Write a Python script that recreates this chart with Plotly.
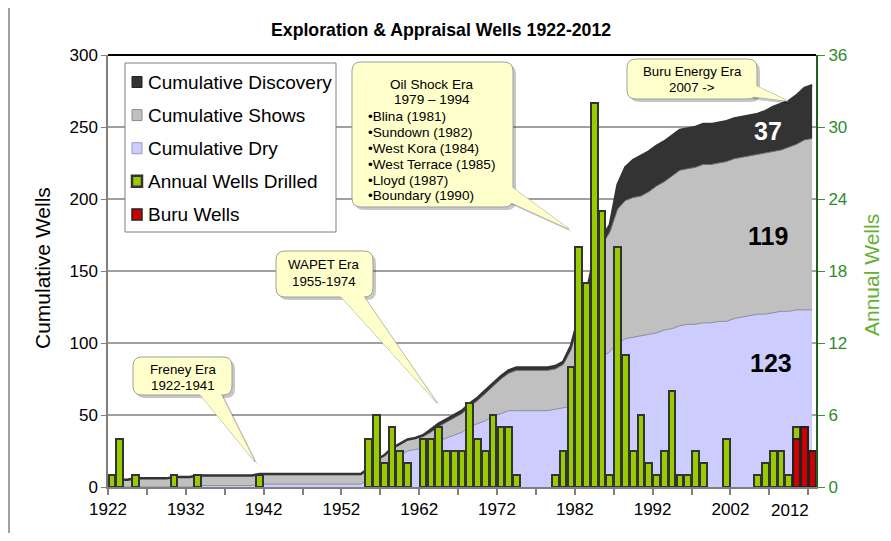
import plotly.graph_objects as go

# ---- data ----
years = list(range(1922, 2013))

# annual wells drilled, 1922..2012
wells = [1, 4, 0, 1, 0, 0, 0, 0, 1, 0,
         0, 1, 0, 0, 0, 0, 0, 0, 0, 1,
         0, 0, 0, 0, 0, 0, 0, 0, 0, 0,
         0, 0, 0, 4, 6, 2, 5, 3, 2, 0,
         4, 4, 5, 3, 3, 3, 7, 4, 3, 6,
         5, 5, 1, 0, 0, 0, 0, 1, 3, 10,
         20, 17, 32, 23, 1, 20, 11, 3, 6, 2,
         1, 3, 8, 1, 1, 3, 2, 0, 0, 4,
         0, 0, 0, 1, 2, 3, 3, 1, 5, 5,
         3]

buru_years = [2010, 2011, 2012]
buru_wells = [4, 5, 3]

# cumulative counts (stacked: dry, shows, discovery)
cum_dry = [0, 0, 0, 0, 0, 0, 0, 0, 0, 0,
           0, 1, 1, 1, 1, 1, 1, 1, 1, 2,
           2, 2, 2, 2, 2, 2, 2, 2, 2, 2,
           2, 2, 2, 5, 11, 14, 19, 22, 25, 26,
           27, 29, 32, 34, 36, 38, 42, 44, 46, 49,
           51, 53, 53, 53, 53, 53, 53, 54, 55, 56,
           64, 72, 82, 90, 94, 100, 103, 104, 105, 106,
           107, 109, 110, 112, 113, 113, 114, 114, 115, 115,
           117, 118, 119, 120, 120, 121, 122, 122, 123, 123,
           123]

cum_shows = [1, 5, 5, 6, 6, 6, 6, 6, 7, 7,
             7, 7, 7, 7, 7, 7, 7, 7, 7, 7,
             7, 7, 7, 7, 7, 7, 7, 7, 7, 7,
             7, 7, 7, 8, 8, 8, 8, 8, 8, 8,
             8, 9, 10, 11, 12, 13, 14, 16, 19, 21,
             24, 26, 28, 28, 28, 28, 28, 28, 30, 39,
             50, 58, 73, 78, 83, 93, 96, 97, 97, 99,
             102, 103, 106, 108, 108, 109, 110, 110, 110, 111,
             111, 111, 111, 111, 112, 112, 112, 114, 115, 118,
             119]

cum_disc = [0, 0, 0, 0, 0, 0, 0, 0, 0, 0,
            0, 0, 0, 0, 0, 0, 0, 0, 0, 0,
            0, 0, 0, 0, 0, 0, 0, 0, 0, 0,
            0, 0, 0, 0, 0, 0, 0, 0, 0, 0,
            1, 2, 2, 2, 2, 2, 2, 2, 2, 2,
            2, 2, 2, 2, 2, 2, 2, 2, 2, 3,
            4, 5, 5, 5, 5, 17, 23, 26, 28, 28,
            28, 28, 28, 28, 28, 28, 28, 28, 28, 28,
            28, 28, 28, 28, 29, 31, 32, 32, 34, 36,
            37]

tick_years = list(range(1922, 2013, 5))
end_labels = ["37", "119", "123"]

# ---- geometry helpers (page pixel -> paper) ----
OFF = 8                      # body margin of the html page
W, H = 891 - 2 * OFF, 541 - 2 * OFF
L, R, T, B = 108, 816, 55, 487


def px(x, y):
    return ((x - L) / (R - L), (B - y) / (B - T))


def to_path(seq, dx=0, dy=0):
    out = []
    for cmd, pts in seq:
        out.append(cmd + ' '.join('%.5f,%.5f' % px(x + dx, y + dy) for x, y in pts))
    return ' '.join(out) + ' Z'


def rr(x0, y0, x1, y1, r=9):
    return [('M', [(x0 + r, y0)]), ('L', [(x1 - r, y0)]), ('Q', [(x1, y0), (x1, y0 + r)]),
            ('L', [(x1, y1 - r)]), ('Q', [(x1, y1), (x1 - r, y1)]),
            ('L', [(x0 + r, y1)]), ('Q', [(x0, y1), (x0, y1 - r)]),
            ('L', [(x0, y0 + r)]), ('Q', [(x0, y0), (x0 + r, y0)])]


def tri(a, tip, b):
    return [('M', [a]), ('L', [tip]), ('L', [b])]


FONT = "Arial, Liberation Sans, sans-serif"
fig = go.Figure()

# stacked cumulative areas
fig.add_trace(go.Scatter(x=years, y=cum_dry, name="Cumulative Dry", stackgroup="cum",
                         mode="lines", line=dict(color="#8c8c9c", width=1),
                         fillcolor="#ccccff", showlegend=False))
fig.add_trace(go.Scatter(x=years, y=cum_shows, name="Cumulative Shows", stackgroup="cum",
                         mode="lines", line=dict(color="#6a6a6a", width=1),
                         fillcolor="#c0c0c0", showlegend=False))
fig.add_trace(go.Scatter(x=years, y=cum_disc, name="Cumulative Discovery", stackgroup="cum",
                         mode="lines", line=dict(color="#333333", width=2.5),
                         fillcolor="#333333", showlegend=False))

# annual bars
fig.add_trace(go.Bar(x=years, y=[v if v else None for v in wells], name="Annual Wells Drilled",
                     yaxis="y2", width=0.86, showlegend=False,
                     marker=dict(color="#99cc00", line=dict(color="#333333", width=2))))
fig.add_trace(go.Bar(x=buru_years, y=buru_wells, name="Buru Wells",
                     yaxis="y2", width=0.9, showlegend=False,
                     marker=dict(color="#cc0000", line=dict(color="#222222", width=2))))

shapes = []
annotations = []


def box_shape(x0, y0, x1, y1, fill, line, width=1):
    a, b = px(x0, y0), px(x1, y1)
    shapes.append(dict(type="rect", xref="paper", yref="paper", x0=a[0], y0=a[1], x1=b[0], y1=b[1],
                       fillcolor=fill, line=dict(color=line, width=width), layer="above"))


def callout(box, wedge, fill="#ffffcc"):
    x0, y0, x1, y1 = box
    a, tip, b = wedge
    shadow = dict(type="path", xref="paper", yref="paper", fillcolor="rgba(0,0,0,0.22)",
                  line=dict(width=0), layer="above")
    shapes.append(dict(shadow, path=to_path(rr(x0, y0, x1, y1), 3, 3)))
    shapes.append(dict(shadow, path=to_path(tri(a, tip, b), 3, 3)))
    solid = dict(type="path", xref="paper", yref="paper", fillcolor=fill, layer="above")
    shapes.append(dict(solid, path=to_path(tri(a, tip, b)), line=dict(color="#a0a0a0", width=1)))
    shapes.append(dict(solid, path=to_path(rr(x0, y0, x1, y1)), line=dict(color="#a0a0a0", width=1)))
    shapes.append(dict(solid, path=to_path(tri(a, tip, b)), line=dict(width=0)))


def note(x, y, text, size=13.3, color="#000000", xanchor="center", bold=False, angle=0):
    xx, yy = px(x, y)
    annotations.append(dict(x=xx, y=yy, xref="paper", yref="paper", text=text, showarrow=False,
                            xanchor=xanchor, yanchor="middle", textangle=angle,
                            font=dict(family=FONT, size=size, color=color,
                                      weight="bold" if bold else "normal")))


# era callouts
callout((133, 357, 232, 395), ((193, 386), (255, 462), (217, 386)))
note(183, 369, "Freney Era")
note(183, 385, "1922-1941")

callout((276, 251, 373, 297), ((333, 288), (437, 403), (358, 288)))
note(324, 264, "WAPET Era")
note(324, 281, "1955-1974")

callout((352, 62, 513, 207), ((505, 182), (569, 229), (505, 200)))
note(432, 84, "Oil Shock Era", size=13.6)
note(432, 100, "1979 \u2013 1994", size=13.6)
fields = ["Blina (1981)", "Sundown (1982)", "West Kora (1984)",
          "West Terrace (1985)", "Lloyd (1987)", "Boundary (1990)"]
for i, f in enumerate(fields):
    note(366, 117 + i * 15.8, "\u2022" + f, size=13.6, xanchor="left")

callout((627, 59, 757, 99), ((748, 82), (788, 101), (748, 96)))
note(692, 71, "Buru Energy Era")
note(692, 88, "2007 -&gt;")

# end-of-series totals
note(768, 131, end_labels[0], size=25, color="#ffffff", bold=True)
note(768, 236, end_labels[1], size=25, bold=True)
note(771, 363, end_labels[2], size=25, bold=True)

# hand-drawn legend (small square swatches like the original)
box_shape(125, 63, 336, 232, "white", "#808080")
legend_items = [("Cumulative Discovery", "#333333", "#222222", 1),
                ("Cumulative Shows", "#c0c0c0", "#8a8a8a", 1),
                ("Cumulative Dry", "#ccccff", "#9a9acc", 1),
                ("Annual Wells Drilled", "#99cc00", "#333333", 2.5),
                ("Buru Wells", "#cc0000", "#222222", 1.5)]
for i, (name, fill, edge, lw) in enumerate(legend_items):
    yc = 82 + i * 33.1
    box_shape(132, yc - 5.5, 142, yc + 5.5, fill, edge, lw)
    note(146, yc, name, size=19, xanchor="left")

# titles
note(441, 30, "Exploration &amp; Appraisal Wells 1922-2012", size=17.7, bold=True)
note(42, 268, "Cumulative Wells", size=21, angle=-90)
note(871, 275, "Annual Wells", size=21, color="#66b032", angle=-90)
note(790, 510, "2012", size=17)

# plot-area top border and left frame edge
shapes.append(dict(type="line", xref="paper", yref="paper", x0=0, x1=1, y0=1, y1=1,
                   line=dict(color="#000000", width=2), layer="above"))
fl = px(9, 0)
shapes.append(dict(type="line", xref="paper", yref="paper", x0=fl[0], x1=fl[0],
                   y0=px(0, 0)[1], y1=px(0, 541)[1], line=dict(color="#444444", width=1)))

fig.update_layout(
    width=W, height=H,
    margin=dict(l=L - OFF, r=W + OFF - R, t=T - OFF, b=H + OFF - B),
    paper_bgcolor="white", plot_bgcolor="white",
    barmode="overlay", bargap=0,
    font=dict(family=FONT, size=17, color="#000000"),
    showlegend=False,
    xaxis=dict(range=[1921.5, 2012.5], tickmode="array",
               tickvals=[y - 0.5 for y in tick_years],
               ticktext=[str(y) if (y - 1922) % 10 == 0 and y < 2012 else "" for y in tick_years],
               ticks="outside", ticklen=6, tickcolor="#808080", tickwidth=1.5,
               showline=True, linecolor="#808080", linewidth=2, showgrid=False, zeroline=False,
               tickfont=dict(size=17)),
    yaxis=dict(range=[0, 300], dtick=50, ticks="outside", ticklen=5, tickcolor="#808080",
               showline=True, linecolor="#808080", linewidth=1.5,
               showgrid=True, gridcolor="#a0a0a0", gridwidth=2, zeroline=False,
               tickfont=dict(size=17)),
    yaxis2=dict(range=[0, 36], dtick=6, overlaying="y", side="right", ticks="outside",
                ticklen=7, tickcolor="#339933", showline=True, linecolor="#1f5f1f", linewidth=2,
                showgrid=False, zeroline=False, tickfont=dict(size=17, color="#2e8b2e")),
    shapes=shapes,
    annotations=annotations,
)

fig.write_html("out.html")
